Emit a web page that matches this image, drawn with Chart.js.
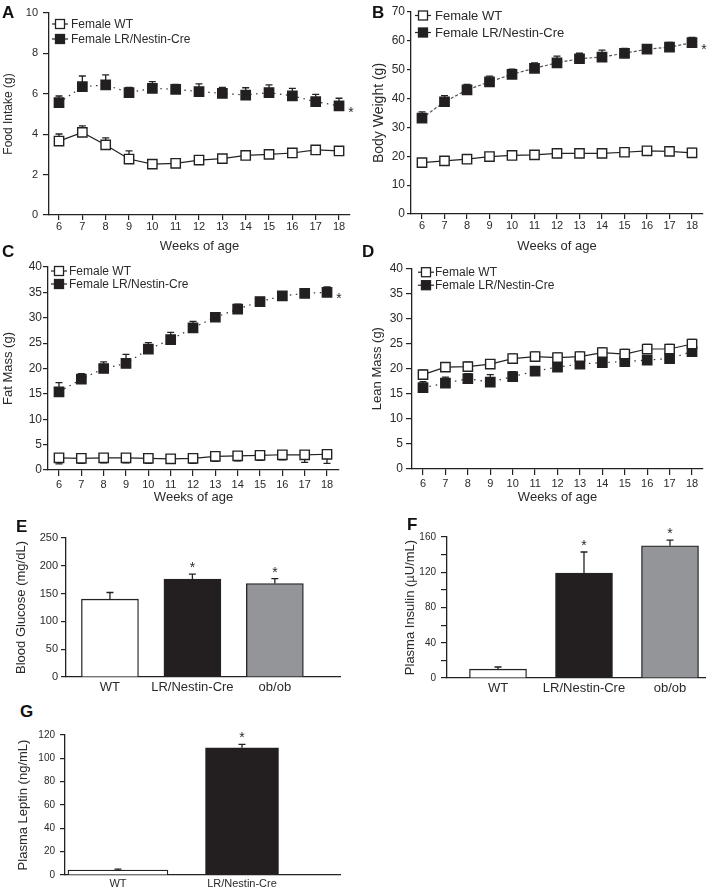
<!DOCTYPE html>
<html>
<head>
<meta charset="utf-8">
<script src="https://cdn.jsdelivr.net/npm/chart.js@4.4.1/dist/chart.umd.min.js"></script>
<style>
body { margin: 0; background: #fff; width: 721px; height: 893px; position: relative; overflow: hidden;
       font-family: "Liberation Sans", Arial, sans-serif; }
canvas { position: absolute; }
.tag { position: absolute; font-weight: bold; font-size: 17px; line-height: 1; color: #111; z-index: 2; }
</style>
</head>
<body>
<div class="tag" style="left:2px;top:4px">A</div>
<div class="tag" style="left:372px;top:4px">B</div>
<div class="tag" style="left:2px;top:243px">C</div>
<div class="tag" style="left:362px;top:243px">D</div>
<div class="tag" style="left:16px;top:518px">E</div>
<div class="tag" style="left:407px;top:516px">F</div>
<div class="tag" style="left:20px;top:703px">G</div>

<canvas id="chartA"></canvas>
<canvas id="chartB"></canvas>
<canvas id="chartC"></canvas>
<canvas id="chartD"></canvas>
<canvas id="chartE"></canvas>
<canvas id="chartF"></canvas>
<canvas id="chartG"></canvas>

<script>
// ---- data ----
const weeks = [6, 7, 8, 9, 10, 11, 12, 13, 14, 15, 16, 17, 18];
const seriesNames = ["Female WT", "Female LR/Nestin-Cre"];

const foodWT = [3.66, 4.09, 3.47, 2.77, 2.52, 2.56, 2.72, 2.79, 2.95, 3.0, 3.07, 3.22, 3.17];
const foodWTErr = [0.35, 0.32, 0.35, 0.4, 0.15, 0.15, 0.15, 0.15, 0.15, 0.15, 0.15, 0.15, 0.15];
const foodKO = [5.56, 6.35, 6.44, 6.06, 6.27, 6.22, 6.11, 6.02, 5.94, 6.06, 5.9, 5.61, 5.4];
const foodKOErr = [0.33, 0.53, 0.5, 0.26, 0.33, 0.25, 0.38, 0.3, 0.36, 0.38, 0.37, 0.36, 0.38];

const bodyWT = [17.8, 18.4, 19.0, 19.9, 20.3, 20.5, 21.0, 21.0, 21.0, 21.4, 21.9, 21.7, 21.2];
const bodyWTErr = [1.3, 1.3, 1.3, 1.3, 1.3, 1.3, 1.3, 1.3, 1.3, 1.3, 1.3, 1.3, 1.5];
const bodyKO = [33.2, 38.9, 43.0, 45.8, 48.4, 50.5, 52.4, 53.8, 54.4, 55.7, 57.1, 57.8, 59.4];
const bodyKOErr = [2.2, 2.1, 1.9, 2.0, 1.8, 1.9, 2.3, 1.9, 2.4, 1.7, 1.5, 1.7, 1.8];

const fatWT = [2.4, 2.3, 2.4, 2.4, 2.3, 2.2, 2.3, 2.7, 2.8, 2.9, 3.0, 3.0, 3.1];
const fatWTErr = [1.2, 1.0, 1.0, 1.0, 1.0, 0.8, 1.0, 1.0, 1.0, 1.0, 1.0, 1.5, 1.8];
const fatKO = [15.4, 17.9, 20.0, 21.0, 23.8, 25.7, 28.0, 30.1, 31.7, 33.2, 34.3, 34.8, 35.0];
const fatKOErr = [1.8, 1.1, 1.3, 1.8, 1.3, 1.4, 1.3, 0.8, 1.0, 0.6, 0.8, 0.6, 1.1];

const leanWT = [18.8, 20.3, 20.4, 20.9, 22.0, 22.4, 22.2, 22.4, 23.2, 22.9, 23.9, 23.9, 24.9];
const leanWTErr = [0.9, 0.9, 0.9, 0.9, 0.9, 0.9, 0.9, 0.9, 0.9, 0.9, 0.9, 0.9, 0.9];
const leanKO = [16.2, 17.1, 18.0, 17.3, 18.4, 19.5, 20.3, 20.9, 21.2, 21.4, 21.7, 22.0, 23.4];
const leanKOErr = [1.2, 1.2, 1.0, 1.5, 1.0, 0.9, 0.8, 0.8, 0.8, 0.8, 0.8, 0.8, 0.8];

const groups3 = ["WT", "LR/Nestin-Cre", "ob/ob"];
const glucose = [140, 176, 168];
const glucoseErr = [12, 9, 9];
const glucoseSig = [false, true, true];
const insulin = [10, 119, 150];
const insulinErr = [2.5, 24, 6.5];
const insulinSig = [false, true, true];

const groups2 = ["WT", "LR/Nestin-Cre"];
const leptin = [4.3, 109];
const leptinErr = [0.8, 3];
const leptinSig = [false, true];

const barFill = ["#ffffff", "#231f20", "#939598"];
const ink = "#222";
const textInk = "#2a2a2a";

Chart.defaults.font.family = '"Liberation Sans", Arial, sans-serif';
Chart.defaults.color = textInk;
Chart.defaults.animation = false;
Chart.defaults.events = [];
Chart.defaults.plugins.legend.display = false;
Chart.defaults.plugins.tooltip.enabled = false;

// error bars, drawn under the markers
const errorBars = {
    id: "errorBars",
    beforeDatasetsDraw(chart) {
        const ctx = chart.ctx;
        const yScale = chart.scales.y;
        chart.data.datasets.forEach((ds, di) => {
            if (!ds.errors) return;
            const meta = chart.getDatasetMeta(di);
            ctx.save();
            ctx.strokeStyle = ink;
            ctx.lineWidth = 1.3;
            meta.data.forEach((el, i) => {
                const v = chart.config.type === "bar" ? ds.data[i].y : ds.data[i].y;
                const e = ds.errors[i];
                const dirs = ds.errDir === "both" ? [1, -1] : ds.errDir === "down" ? [-1] : [1];
                dirs.forEach(d => {
                    const yEnd = yScale.getPixelForValue(v + d * e);
                    const yStart = chart.config.type === "bar" ? el.y : yScale.getPixelForValue(v);
                    ctx.beginPath();
                    ctx.moveTo(el.x, yStart);
                    ctx.lineTo(el.x, yEnd);
                    ctx.moveTo(el.x - 3.5, yEnd);
                    ctx.lineTo(el.x + 3.5, yEnd);
                    ctx.stroke();
                });
            });
            ctx.restore();
        });
    },
    afterDatasetsDraw(chart) {
        const ctx = chart.ctx;
        const yScale = chart.scales.y;
        ctx.save();
        ctx.fillStyle = textInk;
        ctx.font = '14px "Liberation Sans", Arial, sans-serif';
        ctx.textAlign = "center";
        ctx.textBaseline = "alphabetic";
        chart.data.datasets.forEach((ds, di) => {
            if (!ds.stars) return;
            const meta = chart.getDatasetMeta(di);
            meta.data.forEach((el, i) => {
                if (!ds.stars[i]) return;
                if (chart.config.type === "bar") {
                    const cap = yScale.getPixelForValue(ds.data[i].y + ds.errors[i]);
                    ctx.fillText("*", el.x, cap - 2);
                } else {
                    ctx.fillText("*", el.x + 12, el.y + 11);
                }
            });
        });
        ctx.restore();
    }
};

// small legend inside the plot, top left
const boxLegend = {
    id: "boxLegend",
    afterDraw(chart, args, opts) {
        if (!opts || !opts.show) return;
        const ctx = chart.ctx;
        const a = chart.chartArea;
        ctx.save();
        chart.data.datasets.forEach((ds, i) => {
            const x = a.left + opts.dx;
            const y = a.top + opts.dy + i * opts.gap;
            ctx.strokeStyle = ink;
            ctx.lineWidth = 1.2;
            ctx.beginPath();
            ctx.moveTo(x, y);
            ctx.lineTo(x + 16, y);
            ctx.stroke();
            const s = opts.box;
            ctx.fillStyle = ds.pointBackgroundColor;
            ctx.fillRect(x + 8 - s / 2, y - s / 2, s, s);
            ctx.lineWidth = 1.3;
            ctx.strokeRect(x + 8 - s / 2, y - s / 2, s, s);
            ctx.fillStyle = textInk;
            ctx.font = opts.size + 'px "Liberation Sans", Arial, sans-serif';
            ctx.textAlign = "left";
            ctx.textBaseline = "middle";
            ctx.fillText(ds.label, x + opts.textDx, y + 0.5);
        });
        ctx.restore();
    }
};

function placeCanvas(id, box) {
    const c = document.getElementById(id);
    c.style.left = box.x + "px";
    c.style.top = box.y + "px";
    c.width = box.w;
    c.height = box.h;
    c.style.width = box.w + "px";
    c.style.height = box.h + "px";
    return c;
}

function yAxis(p, box, area) {
    return {
        min: p.min, max: p.max,
        afterFit: s => { s.width = area.l - box.x; },
        ticks: { stepSize: p.step, padding: p.tickPad, font: { size: p.tickSize }, callback: p.cb },
        grid: { drawOnChartArea: false, tickLength: p.tl, color: ink, lineWidth: 1.2 },
        border: { color: ink, width: 1.3 },
        title: { display: true, text: p.title, font: { size: p.titleSize }, padding: { top: p.titlePad, bottom: 0 } }
    };
}

function lineChart(id, box, area, p) {
    const c = placeCanvas(id, box);
    const mk = (vals, errs, dir, white, dash, color, stars) => ({
        data: weeks.map((w, i) => ({ x: w, y: vals[i] })),
        errors: errs, errDir: dir, stars: stars,
        borderColor: color, borderWidth: 1.2, borderDash: dash,
        pointStyle: "rect", pointRadius: 6.6, pointBorderWidth: 1.4,
        pointBackgroundColor: white ? "#ffffff" : "#231f20", pointBorderColor: ink,
        tension: 0, clip: false
    });
    const wt = mk(p.wt, p.wtErr, p.wtDir, true, [], ink, null);
    wt.label = seriesNames[0];
    const ko = mk(p.ko, p.koErr, "up", false, p.koDash, p.koColor,
        p.star ? weeks.map((w, i) => i === weeks.length - 1) : null);
    ko.label = seriesNames[1];
    return new Chart(c, {
        type: "line",
        data: { datasets: [wt, ko] },
        options: {
            responsive: false,
            layout: { padding: { top: area.t - box.y, right: box.x + box.w - area.r, left: 0, bottom: 0 } },
            scales: {
                x: {
                    type: "linear", min: p.xMin, max: p.xMax,
                    afterBuildTicks: s => { s.ticks = weeks.map(v => ({ value: v })); },
                    afterFit: s => { s.height = box.y + box.h - area.b; },
                    ticks: { font: { size: 11 }, padding: p.xTickPad, autoSkip: false, maxRotation: 0 },
                    grid: { drawOnChartArea: false, tickLength: p.xtl, color: ink, lineWidth: 1.2 },
                    border: { color: ink, width: 1.3 },
                    title: { display: true, text: "Weeks of age", font: { size: 13 }, padding: { top: 0, bottom: p.xTitlePad } }
                },
                y: yAxis(p.y, box, area)
            },
            plugins: { boxLegend: p.legend }
        },
        plugins: [errorBars, boxLegend]
    });
}

function barChart(id, box, area, p) {
    const c = placeCanvas(id, box);
    const datasets = p.groups.map((g, i) => ({
        data: [{ x: i, y: p.vals[i] }],
        errors: [p.errs[i]], errDir: "up", stars: [p.sig[i]],
        backgroundColor: barFill[i], borderColor: ink, borderWidth: 1.3,
        barThickness: p.widths[i], grouped: false
    }));
    return new Chart(c, {
        type: "bar",
        data: { datasets: datasets },
        options: {
            responsive: false,
            layout: { padding: { top: area.t - box.y, right: box.x + box.w - area.r, left: 0, bottom: 0 } },
            scales: {
                x: {
                    type: "linear", min: p.xMin, max: p.xMax, offset: false,
                    afterBuildTicks: s => { s.ticks = p.groups.map((g, i) => ({ value: i })); },
                    afterFit: s => { s.height = box.y + box.h - area.b; },
                    ticks: { font: { size: p.catSize }, padding: p.catPad, autoSkip: false, maxRotation: 0,
                             callback: v => p.groups[v] },
                    grid: { display: false, drawTicks: false },
                    border: { color: ink, width: 1.3 }
                },
                y: yAxis(p.y, box, area)
            }
        },
        plugins: [errorBars]
    });
}

// ---- panels ----
lineChart("chartA", { x: 0, y: 0, w: 360, h: 255 }, { l: 49, t: 13, r: 350, b: 215 }, {
    wt: foodWT, wtErr: foodWTErr, wtDir: "up", ko: foodKO, koErr: foodKOErr,
    koDash: [1.5, 4.5], koColor: "#333", star: true,
    xMin: 5.571, xMax: 18.47, xTickPad: 0, xtl: 5, xTitlePad: 1.2,
    y: { min: 0, max: 10, step: 2, title: "Food Intake (g)", titleSize: 12, titlePad: 1, tickSize: 11, tickPad: 5, tl: 6 },
    legend: { show: true, dx: 3, dy: 11, gap: 15, box: 9, size: 12, textDx: 19 }
});

lineChart("chartB", { x: 360, y: 0, w: 361, h: 255 }, { l: 411, t: 12, r: 703, b: 214 }, {
    wt: bodyWT, wtErr: bodyWTErr, wtDir: "both", ko: bodyKO, koErr: bodyKOErr,
    koDash: [3, 2], koColor: "#555", star: true,
    xMin: 5.511, xMax: 18.489, xTickPad: 0, xtl: 5, xTitlePad: 1.2,
    y: { min: 0, max: 70, step: 10, title: "Body Weight (g)", titleSize: 14, titlePad: 11, tickSize: 12, tickPad: 2, tl: 4 },
    legend: { show: true, dx: 4, dy: 3.5, gap: 17, box: 9, size: 13, textDx: 20 }
});

lineChart("chartC", { x: 0, y: 258, w: 360, h: 252 }, { l: 48, t: 267, r: 339, b: 470 }, {
    wt: fatWT, wtErr: fatWTErr, wtDir: "down", ko: fatKO, koErr: fatKOErr,
    koDash: [1.5, 4.5], koColor: "#333", star: true,
    xMin: 5.507, xMax: 18.537, xTickPad: 2.5, xtl: 6, xTitlePad: 4.7,
    y: { min: 0, max: 40, step: 5, title: "Fat Mass (g)", titleSize: 13, titlePad: 1, tickSize: 12, tickPad: 1, tl: 5 },
    legend: { show: true, dx: 3, dy: 4, gap: 13, box: 9, size: 12, textDx: 18 }
});

lineChart("chartD", { x: 360, y: 258, w: 361, h: 252 }, { l: 412, t: 267, r: 703, b: 469 }, {
    wt: leanWT, wtErr: leanWTErr, wtDir: "up", ko: leanKO, koErr: leanKOErr,
    koDash: [1.5, 5], koColor: "#333", star: false,
    xMin: 5.509, xMax: 18.49, xTickPad: 2.5, xtl: 6, xTitlePad: 4.7,
    y: { min: 0, max: 40, step: 5, title: "Lean Mass (g)", titleSize: 13, titlePad: 10, tickSize: 12, tickPad: 3, tl: 6 },
    legend: { show: true, dx: 6, dy: 4, gap: 13, box: 9, size: 12, textDx: 17 }
});

barChart("chartE", { x: 0, y: 525, w: 360, h: 175 }, { l: 66, t: 538, r: 340, b: 677 }, {
    groups: groups3, vals: glucose, errs: glucoseErr, sig: glucoseSig, widths: [57, 57, 57],
    xMin: -0.533, xMax: 2.79, catSize: 13, catPad: 3,
    y: { min: 0, max: 250, step: 50, title: "Blood Glucose (mg/dL)", titleSize: 13, titlePad: 14, tickSize: 11, tickPad: 3, tl: 5 }
});

barChart("chartF", { x: 360, y: 525, w: 361, h: 175 }, { l: 447, t: 537, r: 705, b: 678 }, {
    groups: groups3, vals: insulin, errs: insulinErr, sig: insulinSig, widths: [57, 57, 57],
    xMin: -0.593, xMax: 2.407, catSize: 13, catPad: 3,
    y: { min: 0, max: 160, step: 20, title: "Plasma Insulin (\u00b5U/mL)", titleSize: 13, titlePad: 43, tickSize: 10, tickPad: 5, tl: 6,
         cb: v => (v % 40 === 0 ? v : "") }
});

barChart("chartG", { x: 0, y: 722, w: 360, h: 171 }, { l: 65, t: 735, r: 340, b: 875 }, {
    groups: groups2, vals: leptin, errs: leptinErr, sig: leptinSig, widths: [100, 73],
    xMin: -0.427, xMax: 1.79, catSize: 11, catPad: 2,
    y: { min: 0, max: 120, step: 20, title: "Plasma Leptin (ng/mL)", titleSize: 13, titlePad: 16, tickSize: 10, tickPad: 5, tl: 5 }
});
</script>
</body>
</html>
